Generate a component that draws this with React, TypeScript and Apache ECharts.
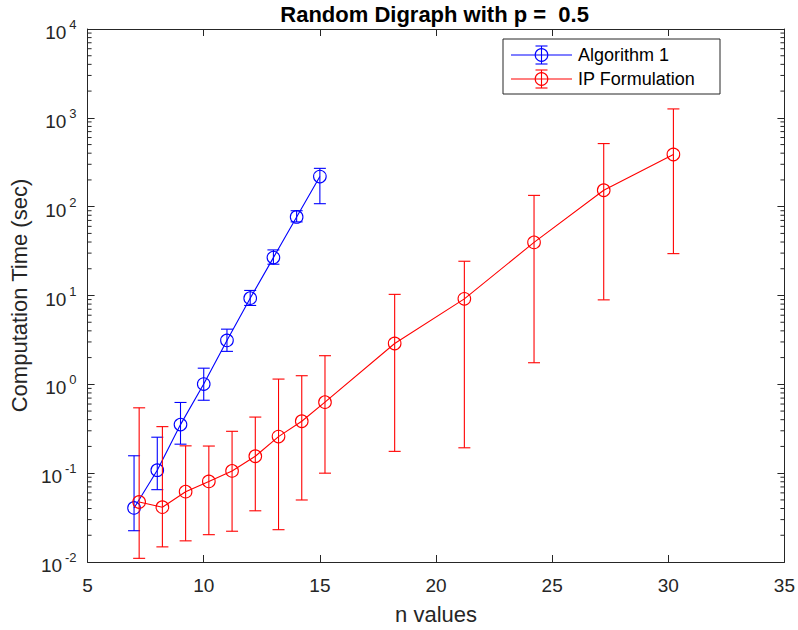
import React, { useEffect, useRef } from "react";
import * as echarts from "echarts";

const algX = [7, 8, 9, 10, 11, 12, 13, 14, 15];
const algMean = [0.0406, 0.108, 0.352, 1.007, 3.12, 9.33, 26.7, 76.6, 218];
const algLow = [0.0225, 0.0652, 0.212, 0.662, 2.35, 7.73, 22.5, 67.4, 108];
const algHigh = [0.157, 0.254, 0.625, 1.52, 4.18, 11.4, 32.6, 90, 270];

const ipX = [7.22, 8.22, 9.22, 10.22, 11.22, 12.22, 13.22, 14.22, 15.22, 18.22, 21.22, 24.22, 27.22, 30.22];
const ipMean = [0.0474, 0.0414, 0.0619, 0.0807, 0.106, 0.155, 0.258, 0.384, 0.63, 2.88, 9.17, 39.6, 153, 387];
const ipLow = [0.011, 0.0148, 0.0173, 0.0203, 0.0222, 0.0377, 0.0231, 0.0499, 0.1, 0.176, 0.193, 1.75, 8.93, 29.6];
const ipHigh = [0.544, 0.334, 0.203, 0.202, 0.296, 0.428, 1.146, 1.25, 2.1, 10.3, 24.3, 134, 513, 1260];

const seriesNames = ["Algorithm 1", "IP Formulation"];
const titleText = "Random Digraph with p =  0.5";
const xLabel = "n values";
const yLabel = "Computation Time (sec)";
const decadeExps = [-2, -1, 0, 1, 2, 3];
const minorMultipliers = [2, 3, 4, 5, 6, 7, 8, 9];

const FONT = "Liberation Sans, Arial, Helvetica, sans-serif";
const AXIS_COLOR = "#262626";
const BLUE = "#0000ff";
const RED = "#ff0000";

function errRender(color: string) {
  return (params: any, api: any) => {
    const x = api.value(0);
    const lo = api.value(1);
    const hi = api.value(2);
    const m = api.value(3);
    const pLo = api.coord([x, lo]);
    const pHi = api.coord([x, hi]);
    const pM = api.coord([x, m]);
    const w = 6;
    const st = { stroke: color, lineWidth: 1.1, fill: "none" };
    return {
      type: "group",
      children: [
        { type: "line", shape: { x1: pLo[0], y1: pLo[1], x2: pHi[0], y2: pHi[1] }, style: st },
        { type: "line", shape: { x1: pLo[0] - w, y1: pLo[1], x2: pLo[0] + w, y2: pLo[1] }, style: st },
        { type: "line", shape: { x1: pHi[0] - w, y1: pHi[1], x2: pHi[0] + w, y2: pHi[1] }, style: st },
        { type: "circle", shape: { cx: pM[0], cy: pM[1], r: 6.3 }, style: st },
      ],
    };
  };
}

function legendRow(y: number, color: string, label: string) {
  const st = { stroke: color, lineWidth: 1.1, fill: "none" };
  const cx = 541.5;
  return [
    { type: "line", shape: { x1: 511, y1: y, x2: 572, y2: y }, style: st, z: 101 },
    { type: "line", shape: { x1: cx, y1: y - 9, x2: cx, y2: y + 9 }, style: st, z: 101 },
    { type: "line", shape: { x1: cx - 6, y1: y - 9, x2: cx + 6, y2: y - 9 }, style: st, z: 101 },
    { type: "line", shape: { x1: cx - 6, y1: y + 9, x2: cx + 6, y2: y + 9 }, style: st, z: 101 },
    { type: "circle", shape: { cx, cy: y, r: 6.3 }, style: st, z: 101 },
    {
      type: "text",
      x: 578,
      y,
      style: { text: label, fill: "#000", font: `18px ${FONT}`, textAlign: "left", textVerticalAlign: "middle" },
      z: 101,
    },
  ];
}

export default function App() {
  const ref = useRef<HTMLDivElement>(null);
  useEffect(() => {
    if (!ref.current) return;
    const chart = echarts.init(ref.current, null, { renderer: "svg" });

    const minorData: number[][] = [];
    decadeExps.forEach((e) => minorMultipliers.forEach((m) => minorData.push([5, m * Math.pow(10, e)])));

    const yLabelCfg = {
      show: true,
      margin: 11,
      color: AXIS_COLOR,
      fontFamily: FONT,
      formatter: (v: number) => {
        const e = Math.round(Math.log10(v));
        return `{b|10}{e|${e}}`;
      },
      rich: {
        b: { fontSize: 19, fontFamily: FONT, color: AXIS_COLOR, padding: [7, 0, 0, 0] },
        e: { fontSize: 13, fontFamily: FONT, color: AXIS_COLOR, padding: [0, 0, 9, 3] },
      },
    };

    const option: any = {
      animation: false,
      backgroundColor: "#ffffff",
      grid: { left: 83, right: 12, top: 29, bottom: 63, containLabel: false },
      xAxis: [
        {
          type: "value",
          min: 5,
          max: 35,
          interval: 5,
          position: "bottom",
          name: xLabel,
          nameLocation: "middle",
          nameGap: 41,
          nameTextStyle: { fontFamily: FONT, fontSize: 22, color: AXIS_COLOR },
          axisLine: { show: true, lineStyle: { color: AXIS_COLOR, width: 1 } },
          axisTick: { show: true, inside: true, length: 7, lineStyle: { color: AXIS_COLOR } },
          axisLabel: { show: true, margin: 14, fontSize: 19, fontFamily: FONT, color: AXIS_COLOR },
          splitLine: { show: false },
        },
        {
          type: "value",
          min: 5,
          max: 35,
          interval: 5,
          position: "top",
          axisLine: { show: true, onZero: false, lineStyle: { color: AXIS_COLOR, width: 1 } },
          axisTick: { show: true, inside: true, length: 7, lineStyle: { color: AXIS_COLOR } },
          axisLabel: { show: false },
          splitLine: { show: false },
        },
      ],
      yAxis: [
        {
          type: "log",
          logBase: 10,
          min: 0.01,
          max: 10000,
          position: "left",
          name: yLabel,
          nameLocation: "middle",
          nameGap: 57,
          nameTextStyle: { fontFamily: FONT, fontSize: 22, color: AXIS_COLOR },
          axisLine: { show: true, lineStyle: { color: AXIS_COLOR, width: 1 } },
          axisTick: { show: true, inside: true, length: 7, lineStyle: { color: AXIS_COLOR } },
          axisLabel: yLabelCfg,
          splitLine: { show: false },
        },
        {
          type: "log",
          logBase: 10,
          min: 0.01,
          max: 10000,
          position: "right",
          axisLine: { show: true, lineStyle: { color: AXIS_COLOR, width: 1 } },
          axisTick: { show: true, inside: true, length: 7, lineStyle: { color: AXIS_COLOR } },
          axisLabel: { show: false },
          splitLine: { show: false },
        },
      ],
      series: [
        {
          name: seriesNames[0],
          type: "line",
          xAxisIndex: 0,
          yAxisIndex: 0,
          data: algX.map((x, i) => [x, algMean[i]]),
          symbol: "none",
          lineStyle: { color: BLUE, width: 1.1 },
          z: 3,
        },
        {
          name: seriesNames[0] + " err",
          type: "custom",
          xAxisIndex: 0,
          yAxisIndex: 0,
          data: algX.map((x, i) => [x, algLow[i], algHigh[i], algMean[i]]),
          encode: { x: 0, y: 3 },
          renderItem: errRender(BLUE),
          z: 3,
        },
        {
          name: seriesNames[1],
          type: "line",
          xAxisIndex: 0,
          yAxisIndex: 0,
          data: ipX.map((x, i) => [x, ipMean[i]]),
          symbol: "none",
          lineStyle: { color: RED, width: 1.1 },
          z: 4,
        },
        {
          name: seriesNames[1] + " err",
          type: "custom",
          xAxisIndex: 0,
          yAxisIndex: 0,
          data: ipX.map((x, i) => [x, ipLow[i], ipHigh[i], ipMean[i]]),
          encode: { x: 0, y: 3 },
          renderItem: errRender(RED),
          z: 4,
        },
        {
          name: "minor ticks",
          type: "custom",
          xAxisIndex: 0,
          yAxisIndex: 0,
          clip: false,
          silent: true,
          data: minorData,
          encode: { x: 0, y: 1 },
          renderItem: (params: any, api: any) => {
            const v = api.value(1);
            const pL = api.coord([5, v]);
            const pR = api.coord([35, v]);
            const st = { stroke: AXIS_COLOR, lineWidth: 1 };
            return {
              type: "group",
              children: [
                { type: "line", shape: { x1: pL[0], y1: pL[1], x2: pL[0] + 4, y2: pL[1] }, style: st },
                { type: "line", shape: { x1: pR[0], y1: pR[1], x2: pR[0] - 4, y2: pR[1] }, style: st },
              ],
            };
          },
          z: 2,
        },
      ],
      graphic: [
        {
          type: "text",
          x: 434.6,
          y: 14,
          style: {
            text: titleText,
            fill: "#000",
            font: `bold 22px ${FONT}`,
            textAlign: "center",
            textVerticalAlign: "middle",
          },
          z: 100,
        },
        {
          type: "rect",
          shape: { x: 503, y: 39, width: 217, height: 55 },
          style: { fill: "#ffffff", stroke: AXIS_COLOR, lineWidth: 1 },
          z: 100,
        },
        ...legendRow(55, BLUE, seriesNames[0]),
        ...legendRow(79, RED, seriesNames[1]),
      ],
    };
    chart.setOption(option);
    return () => chart.dispose();
  }, []);
  return (
    <div
      ref={ref}
      style={{ position: "absolute", left: 0, top: 0, width: 798, height: 630, background: "#fff" }}
    />
  );
}
